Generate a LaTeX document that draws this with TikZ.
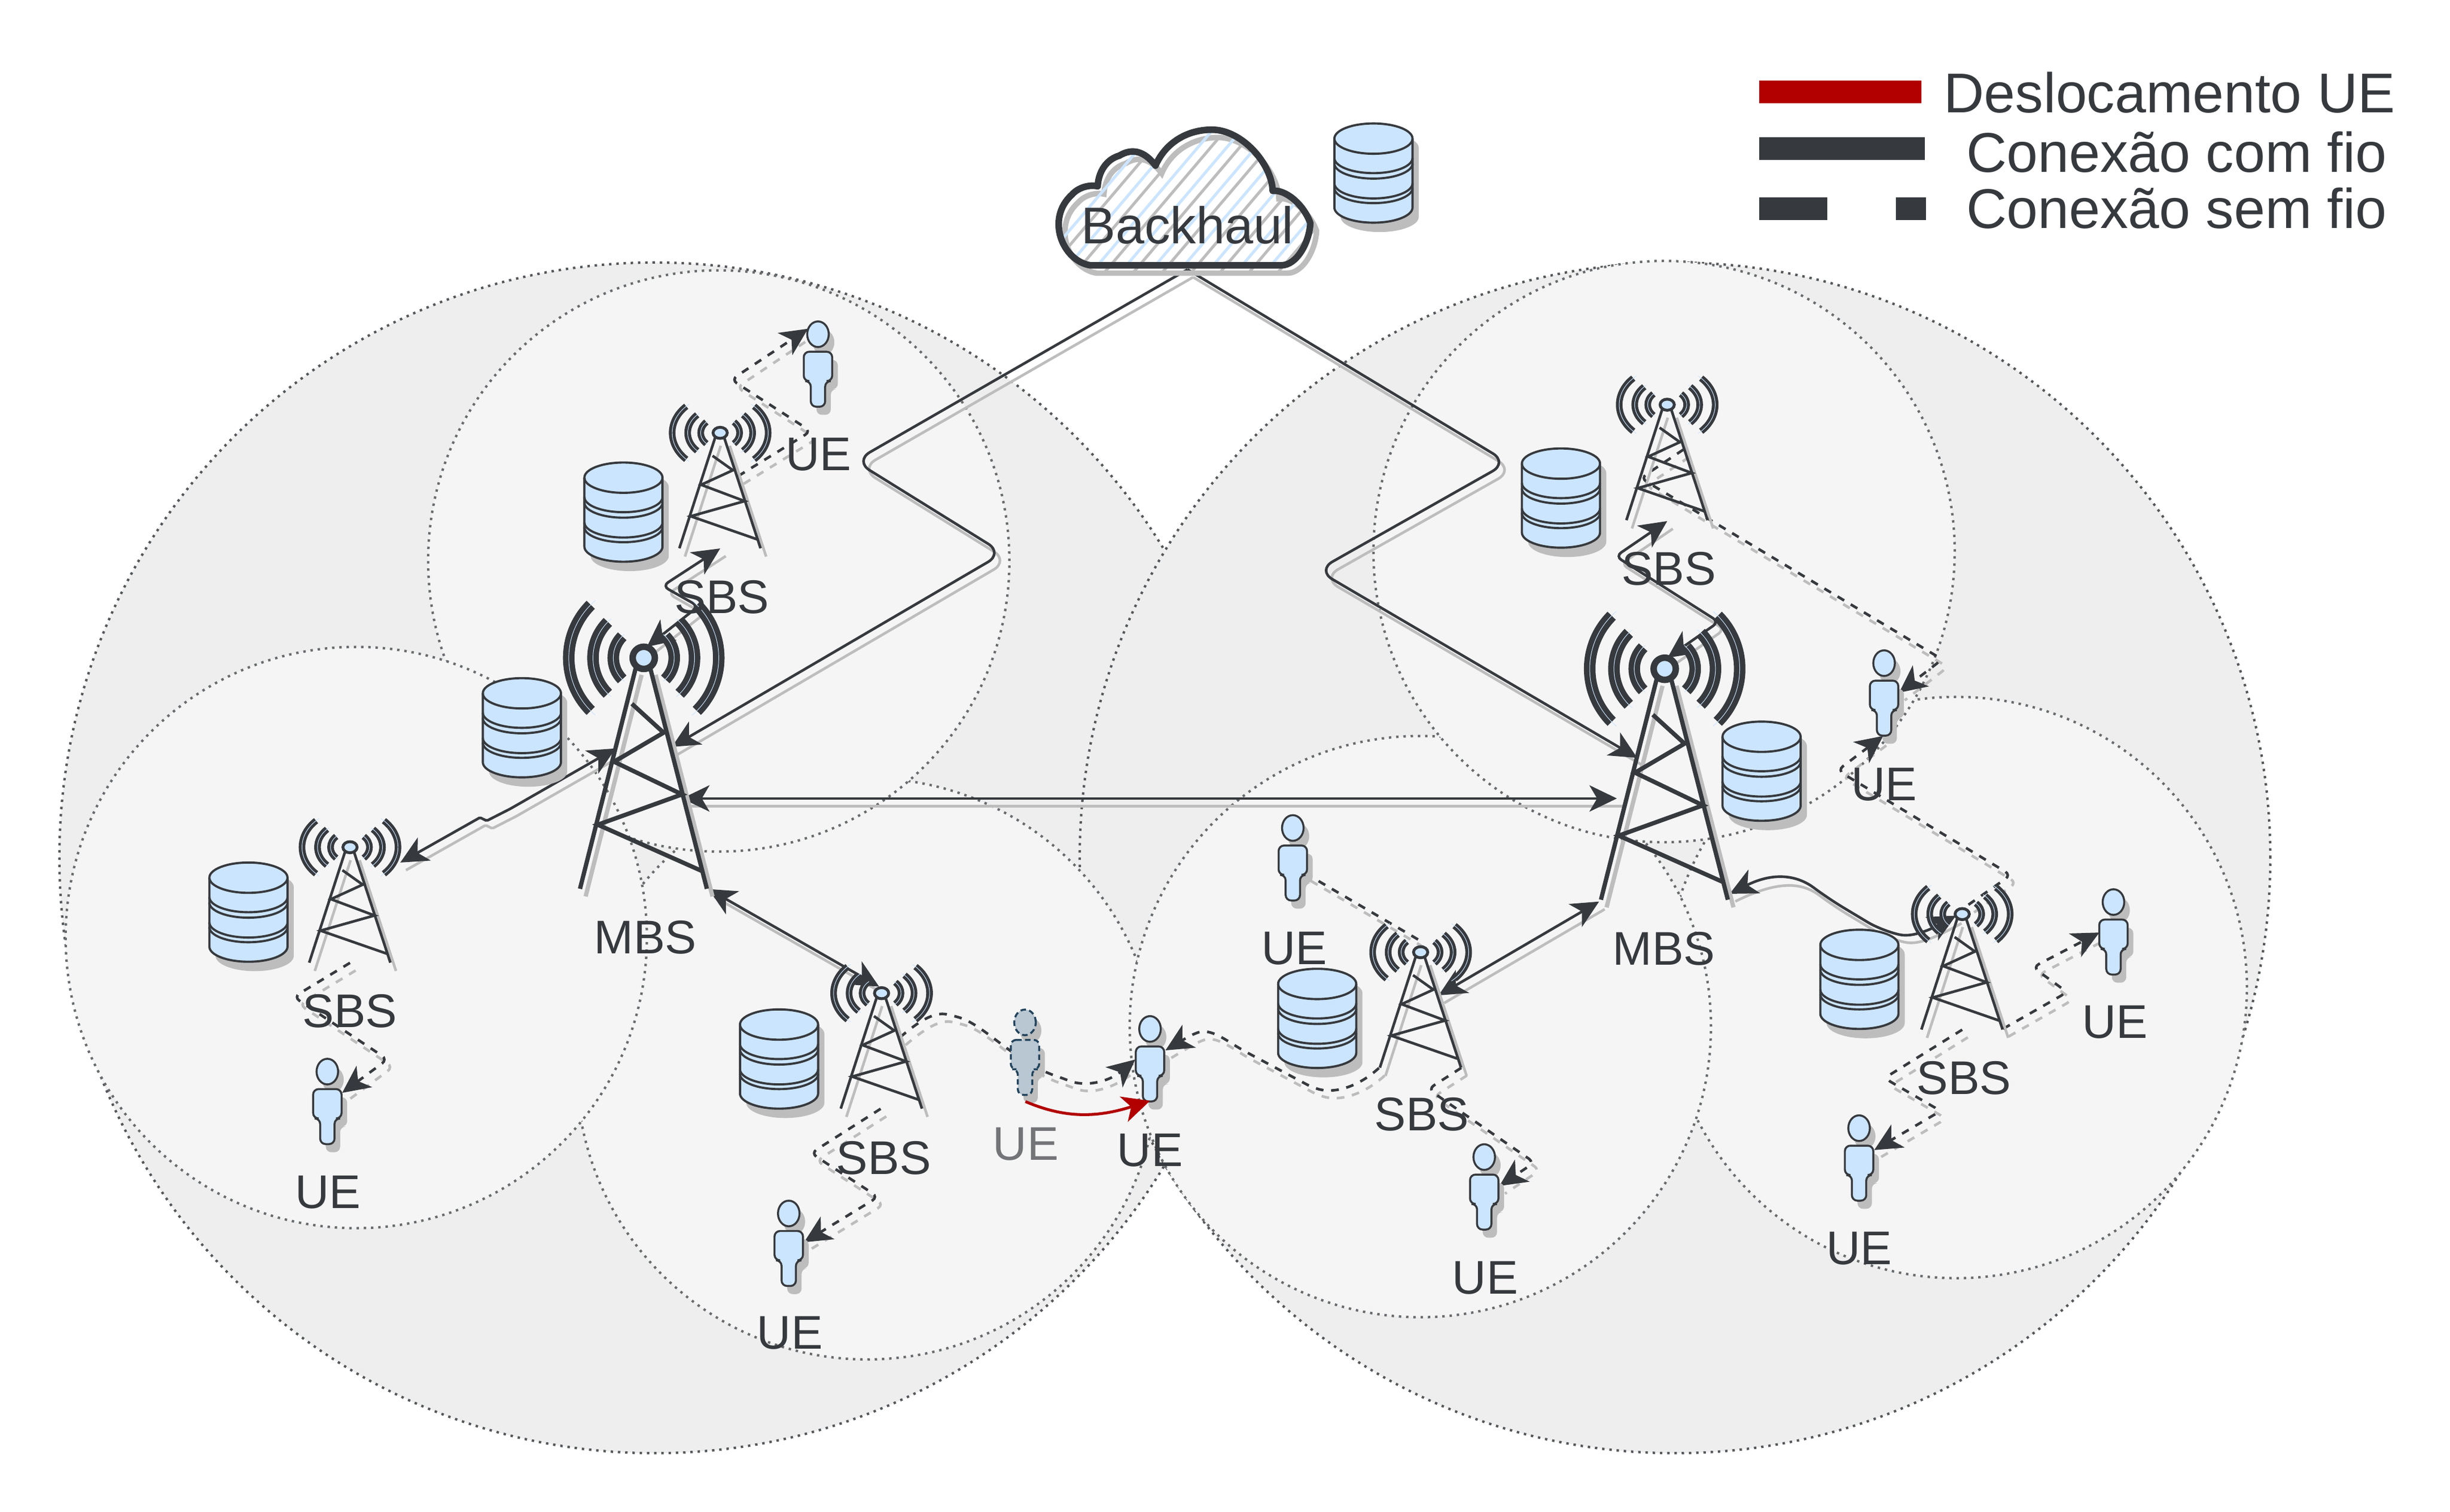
\documentclass[tikz,border=0pt]{standalone}
\usepackage{fontspec}
\setmainfont{Liberation Sans}
\usetikzlibrary{arrows.meta}
\definecolor{darkline}{HTML}{36393D}
\definecolor{softblue}{HTML}{CCE5FF}
\definecolor{shadowgray}{HTML}{BDBDBD}
\definecolor{bigcell}{HTML}{EEEEEE}
\definecolor{smallcell}{HTML}{F5F5F5}
\definecolor{moved}{HTML}{B20000}
\definecolor{ghostfill}{HTML}{B9C7D2}
\definecolor{ghostline}{HTML}{23445D}

\newcommand{\towerbody}[5]{
  \draw[shadowgray, line width=#1] ([shift={(#4,#5)}]-5,-6) -- ([shift={(#4,#5)}]-40.8,-147.8);
  \draw[shadowgray, line width=#1] ([shift={(#4,#5)}]4,-6) -- ([shift={(#4,#5)}]40.4,-147.8);
  \draw[darkline, line width=#1] (-5,-6) -- (-40.8,-147.8);
  \draw[darkline, line width=#1] (4,-6) -- (40.4,-147.8);
  \draw[darkline, line width=#1] (-7.6,-29.4) -- (12.7,-47.9) -- (-19,-66.5) -- (24.5,-87.4) -- (-29.4,-106.8) -- (37.6,-136.6);
  \foreach \rad in {19.5,32.5,48} {
    \draw[darkline, line width=#2] (135:\rad) arc[start angle=135, end angle=225, radius=\rad];
    \draw[darkline, line width=#2] (45:\rad) arc[start angle=45, end angle=-45, radius=\rad];
    \draw[softblue, line width=0.5pt] (130:\rad) arc[start angle=130, end angle=230, radius=\rad];
    \draw[softblue, line width=0.5pt] (50:\rad) arc[start angle=50, end angle=-50, radius=\rad];
  }
  \draw[darkline, fill=softblue, line width=#3] (0,0) ellipse [x radius=7.1, y radius=7.1];
}
\newcommand{\cloudpath}{(697.8,-169.8) .. controls (680,-167) and (669,-140) .. (686,-124.6)
  .. controls (690,-120) and (697,-118) .. (702.5,-119.2)
  .. controls (703,-110) and (708,-102) .. (716.4,-99.6)
  .. controls (724,-95) and (732,-96) .. (739.5,-106)
  .. controls (745,-93) and (758,-83) .. (775.6,-83)
  .. controls (795,-83) and (814,-105) .. (814.5,-122.2)
  .. controls (822,-121) and (834,-130) .. (838.6,-142.8)
  .. controls (838,-155) and (830,-169.8) .. (820,-169.8) -- cycle}
\newcommand{\linkdraw}[2]{
  \begin{scope}[transform canvas={shift={(3.6,-4.9)}}]
    \draw[#1, draw=shadowgray, -] #2;
  \end{scope}
  \draw[#1] #2;
}

\tikzset{
  bigzone/.style={fill=bigcell, draw=darkline!85, line width=2.2pt, dash pattern=on 2.2pt off 4.4pt},
  smallzone/.style={fill=smallcell, draw=darkline!75, line width=2.2pt, dash pattern=on 2.2pt off 4.4pt},
  lbl/.style={font=\fontsize{43}{43}\selectfont, text=darkline, inner sep=0pt},
  legendlbl/.style={font=\fontsize{51}{51}\selectfont, text=darkline, inner sep=0pt, anchor=base},
  wired/.style={draw=darkline, line width=2.4pt, rounded corners=16pt},
  wireless/.style={draw=darkline, line width=2.4pt, rounded corners=6pt, dash pattern=on 7pt off 7pt},
  headone/.style={-{Stealth[length=25pt, width=24pt, inset=7pt]}},
  headtwo/.style={{Stealth[length=25pt, width=24pt, inset=7pt]}-{Stealth[length=25pt, width=24pt, inset=7pt]}},
  uebox/.style={draw=darkline, fill=softblue, line width=1.8pt},
  ueghost/.style={draw=ghostline, fill=ghostfill, line width=1.8pt, dash pattern=on 5pt off 3pt},
  person/.pic={
    \fill[shadowgray] (3.6,-5.2) ellipse [x radius=6.9, y radius=8.2];
    \fill[shadowgray, rounded corners=5pt] (-5.5,-16.4) -- (12.7,-16.4) -- (12.7,-35.2) -- (8.2,-35.2) -- (8.2,-51.6) -- (-1,-51.6) -- (-1,-35.2) -- (-5.5,-35.2) -- cycle;
    \path[pic actions] (0,0) ellipse [x radius=6.9, y radius=8.2];
    \path[pic actions, rounded corners=5pt] (-9.1,-11.2) -- (9.1,-11.2) -- (9.1,-30) -- (4.6,-30) -- (4.6,-46.4) -- (-4.6,-46.4) -- (-4.6,-30) -- (-9.1,-30) -- cycle;
  },
  datastore/.pic={
    \fill[shadowgray] (-21,-15.7) -- (-21,-59.8) arc[start angle=180, end angle=360, x radius=25, y radius=9.7] -- (29,-15.7) arc[start angle=0, end angle=180, x radius=25, y radius=9.7] -- cycle;
    \draw[darkline, fill=softblue, line width=2pt] (-25,-9.7) -- (-25,-53.8) arc[start angle=180, end angle=360, x radius=25, y radius=9.7] -- (25,-9.7) arc[start angle=0, end angle=180, x radius=25, y radius=9.7] -- cycle;
    \draw[darkline, line width=2pt] (-25,-9.7) arc[start angle=180, end angle=360, x radius=25, y radius=9.7];
    \foreach \rim in {-22.1,-25.6,-38.3,-41.3} {
      \draw[darkline, line width=2pt] (-25,\rim) arc[start angle=180, end angle=360, x radius=25, y radius=9.7];
    }
  },
  mbstower/.pic={\towerbody{3.9pt}{10.5pt}{5.9pt}{3.6}{-4.9}},
  sbstower/.pic={
    \begin{scope}[xscale=.64, yscale=.5]
      \towerbody{2.4pt}{6pt}{2.6pt}{5.6}{-10.6}
    \end{scope}
  }
}

\begin{document}
\begin{tikzpicture}[x=0.05cm, y=0.05cm]
  \useasboundingbox (0,0) rectangle (1568,-967.3);

  \draw[bigzone] (419,-549) circle (381);
  \draw[bigzone] (1072,-549) circle (381);
  \draw[smallzone] (555,-684) circle (186);
  \draw[smallzone] (460,-359) circle (186);
  \draw[smallzone] (228,-600) circle (186);
  \draw[smallzone] (1252,-632) circle (186);
  \draw[smallzone] (909,-657) circle (186);
  \draw[smallzone] (1065,-353) circle (186);

  \coordinate (cloudb) at (760,-172.5);
  \coordinate (mbsa) at (412,-421);
  \coordinate (mbsb) at (1065.4,-428);
  \coordinate (sbsa) at (460.9,-277);
  \coordinate (sbsb) at (224,-542.2);
  \coordinate (sbsc) at (564.2,-635.6);
  \coordinate (sbsd) at (909.2,-609.4);
  \coordinate (sbse) at (1067,-259);
  \coordinate (sbsf) at (1255.8,-585);
  \coordinate (uea) at (523.5,-213.9);
  \coordinate (ueb) at (209.5,-685.8);
  \coordinate (uec) at (504.8,-776.6);
  \coordinate (ued) at (736,-658.5);
  \coordinate (uee) at (827.4,-529.9);
  \coordinate (uef) at (949.9,-740.5);
  \coordinate (ueg) at (1352.6,-577.3);
  \coordinate (ueh) at (1189.8,-722);
  \coordinate (uei) at (1205.8,-424.4);
  \coordinate (ueold) at (656,-654.3);

  % com fio
  \linkdraw{wired, headone}{(cloudb) -- (547,-295) -- (642,-354) -- ([shift={(18,-57)}]mbsa)}
  \linkdraw{wired, headone}{(cloudb) -- (965,-296) -- (843,-365) -- ([shift={(-17.6,-57)}]mbsb)}
  \linkdraw{wired, headtwo}{([shift={(24.5,-90)}]mbsa) -- ([shift={(-30.6,-83)}]mbsb)}
  \linkdraw{wired, headtwo, rounded corners=1pt}{([shift={(-18,-58)}]mbsa) -- (326.6,-517.6) -- (311.5,-525.3) -- (307.2,-523.2) -- ([shift={(32.2,-9.8)}]sbsb)}
  \linkdraw{wired, headtwo}{([shift={(41.5,-148)}]mbsa) -- ([shift={(-1.6,4.2)}]sbsc)}
  \linkdraw{wired, headtwo, rounded corners=6pt}{([shift={(2,7)}]mbsa) -- (447,-388) -- (424,-375) -- ([shift={(0,-74)}]sbsa)}
  \linkdraw{wired, headtwo, rounded corners=6pt}{([shift={(1.8,7)}]mbsb) -- (1100,-398) -- (1034,-356) -- ([shift={(0,-74.5)}]sbse)}
  \linkdraw{wired, headtwo}{([shift={(11.5,-27.6)}]sbsd) -- ([shift={(-42,-149)}]mbsb)}
  \linkdraw{wired, headtwo}{([shift={(41.6,-144)}]mbsb) .. controls (1135,-558) and (1150,-560) .. (1170,-575) -- (1205,-596) .. controls (1225,-600) and (1237,-594) .. ([shift={(-4,-1)}]sbsf)}

  % sem fio
  \linkdraw{wireless, headone}{([shift={(11.5,-27.7)}]sbsa) -- (519,-276) -- (468,-243) -- ([shift={(-6.4,3.5)}]uea)}
  \linkdraw{wireless, headone}{([shift={(0,-74)}]sbsb) -- (188,-638) -- (248,-678) -- ([shift={(9.5,-13.6)}]ueb)}
  \linkdraw{wireless, headone}{([shift={(-0.6,-74)}]sbsc) -- (519,-738) -- (562,-766) -- ([shift={(9.8,-18.4)}]uec)}
  \linkdraw{wireless, headone}{([shift={(11.8,-28.3)}]sbsc) .. controls (592,-650) and (600,-648) .. (610,-650) .. controls (630,-656) and (650,-680) .. (680,-690) .. controls (695,-696) and (710,-692) .. ([shift={(-9.5,-19.6)}]ued)}
  \linkdraw{wireless, headone}{([shift={(-26.7,-74.1)}]sbsd) .. controls (870,-695) and (855,-700) .. (840,-696) -- (797,-673) .. controls (785,-666) and (775,-658) .. (763,-662) -- ([shift={(9.9,-13.7)}]ued)}
  \linkdraw{wireless}{([shift={(8,-29)}]uee) -- ([shift={(2.5,5.7)}]sbsd)}
  \linkdraw{wireless, headone}{([shift={(26,-74)}]sbsd) -- (914,-697) -- (982,-744) -- ([shift={(9.7,-18.5)}]uef)}
  \linkdraw{wireless, headone}{([shift={(26.2,-73.4)}]sbsf) -- (1323,-635) -- (1301,-619) -- ([shift={(-9,-19.5)}]ueg)}
  \linkdraw{wireless, headone}{([shift={(0,-74)}]sbsf) -- (1206,-690) -- (1242,-711) -- ([shift={(9.7,-14)}]ueh)}
  \linkdraw{wireless, headone}{([shift={(10.4,-28.7)}]sbse) -- (1050,-306) -- (1243,-422) -- ([shift={(9.6,-18.9)}]uei)}
  \linkdraw{wireless, headone}{([shift={(4,6)}]sbsf) -- (1287,-560) -- (1176,-493) -- ([shift={(-0.6,-46.6)}]uei)}

  % nuvem
  \fill[white] \cloudpath;
  \begin{scope}[shift={(4,-5)}]
    \draw[shadowgray, line width=5pt] \cloudpath;
    \begin{scope}
      \clip \cloudpath;
      \foreach \hx in {640,658.5,...,860} {
        \draw[shadowgray, line width=2.6pt] (\hx,-178) -- (\hx+85,-78);
      }
    \end{scope}
  \end{scope}
  \begin{scope}
    \clip \cloudpath;
    \foreach \hx in {640,658.5,...,860} {
      \draw[softblue, line width=2.6pt] (\hx,-178) -- (\hx+85,-78);
    }
  \end{scope}
  \draw[darkline, line width=6pt, line join=round] \cloudpath;
  \node[lbl, font=\fontsize{47}{47}\selectfont] (backhaul) at (760,-144) {Backhaul};

  % bases
  \pic at (879,-79) {datastore};
  \pic at (399,-296) {datastore};
  \pic at (334,-434) {datastore};
  \pic at (159,-552) {datastore};
  \pic at (498.6,-646) {datastore};
  \pic at (843,-620) {datastore};
  \pic at (999,-287) {datastore};
  \pic at (1127.4,-461.8) {datastore};
  \pic at (1190,-595) {datastore};

  \pic at (mbsa) {mbstower};
  \pic at (mbsb) {mbstower};
  \pic at (sbsa) {sbstower};
  \pic at (sbsb) {sbstower};
  \pic at (sbsc) {sbstower};
  \pic at (sbsd) {sbstower};
  \pic at (sbse) {sbstower};
  \pic at (sbsf) {sbstower};

  \pic[uebox] at (uea) {person};
  \pic[uebox] at (ueb) {person};
  \pic[uebox] at (uec) {person};
  \pic[uebox] at (ued) {person};
  \pic[uebox] at (uee) {person};
  \pic[uebox] at (uef) {person};
  \pic[uebox] at (ueg) {person};
  \pic[uebox] at (ueh) {person};
  \pic[uebox] at (uei) {person};
  \pic[ueghost] at (ueold) {person};

  \draw[moved, line width=2.6pt, -{Stealth[length=25pt, width=24pt, inset=7pt]}] ([shift={(0.3,-50.7)}]ueold) .. controls (680,-715) and (700,-716) .. ([shift={(0,-46)}]ued);

  \node[lbl] (lblmbsa) at (413,-600) {MBS};
  \node[lbl] (lblmbsb) at (1065,-607) {MBS};
  \node[lbl] (lblsbsa) at (462,-382) {SBS};
  \node[lbl] (lblsbsb) at (224,-647) {SBS};
  \node[lbl] (lblsbsc) at (565.6,-741) {SBS};
  \node[lbl] (lblsbsd) at (910,-713) {SBS};
  \node[lbl] (lblsbse) at (1068,-364) {SBS};
  \node[lbl] (lblsbsf) at (1257,-690) {SBS};
  \node[lbl] (lbluea) at (524,-291) {UE};
  \node[lbl] (lblueb) at (210,-763) {UE};
  \node[lbl] (lbluec) at (505.5,-853) {UE};
  \node[lbl] (lblued) at (736,-736) {UE};
  \node[lbl] (lbluee) at (828.5,-607) {UE};
  \node[lbl] (lbluef) at (950.5,-818) {UE};
  \node[lbl] (lblueg) at (1353.5,-654) {UE};
  \node[lbl] (lblueh) at (1190,-799) {UE};
  \node[lbl] (lbluei) at (1206,-502) {UE};
  \node[lbl, text=darkline!70] (lblueold) at (656.5,-732) {UE};

  % legenda
  \fill[moved] (1126,-51.7) rectangle (1229.6,-66.2);
  \fill[darkline] (1126,-88) rectangle (1232,-102.5);
  \fill[darkline] (1126,-126.2) rectangle (1169.6,-141);
  \fill[darkline] (1213.5,-126.2) rectangle (1232.6,-141);
  \node[legendlbl] (legmoved) at (1388.5,-72) {Deslocamento UE};
  \node[legendlbl] (legwired) at (1393,-110) {Conexão com fio};
  \node[legendlbl] (legair) at (1393,-146) {Conexão sem fio};
\end{tikzpicture}
\end{document}
